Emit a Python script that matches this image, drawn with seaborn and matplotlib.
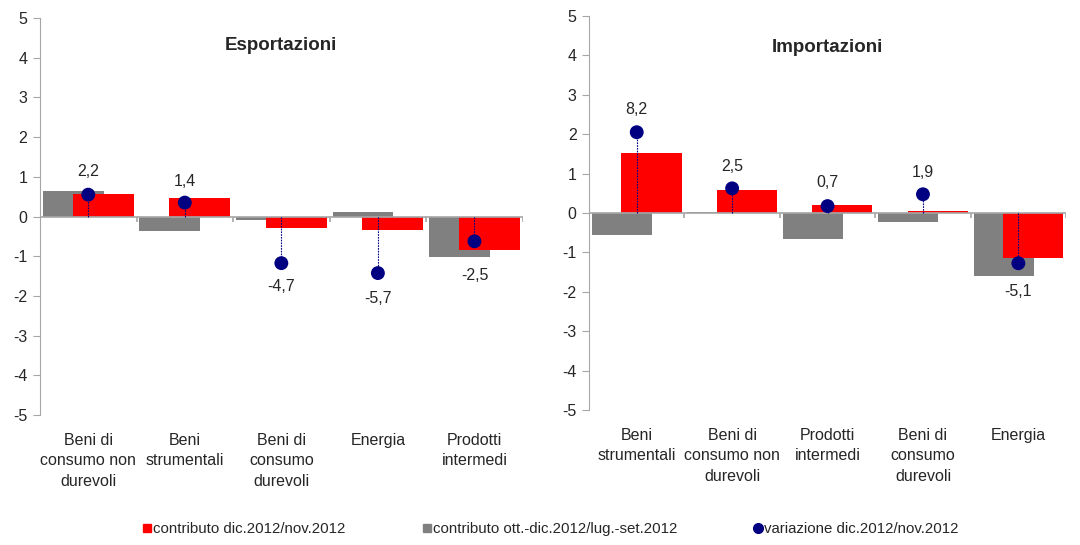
import numpy as np
import pandas as pd
import matplotlib
matplotlib.use('Agg')
import matplotlib.pyplot as plt
import seaborn as sns
from matplotlib.lines import Line2D

# --- data ---
exp_cats = ['Beni di\nconsumo non\ndurevoli', 'Beni\nstrumentali', 'Beni di\nconsumo\ndurevoli',
            'Energia', 'Prodotti\nintermedi']
exp_contrib_month = [0.56, 0.46, -0.29, -0.33, -0.84]     # contributo dic.2012/nov.2012
exp_contrib_quarter = [0.65, -0.37, -0.08, 0.12, -1.01]   # contributo ott.-dic.2012/lug.-set.2012
exp_variation = [2.2, 1.4, -4.7, -5.7, -2.5]              # variazione dic.2012/nov.2012

imp_cats = ['Beni\nstrumentali', 'Beni di\nconsumo non\ndurevoli', 'Prodotti\nintermedi',
            'Beni di\nconsumo\ndurevoli', 'Energia']
imp_contrib_month = [1.51, 0.58, 0.21, 0.06, -1.14]
imp_contrib_quarter = [-0.56, 0.03, -0.66, -0.22, -1.59]
imp_variation = [8.2, 2.5, 0.7, 1.9, -5.1]

legend_labels = ['contributo dic.2012/nov.2012',
                 'contributo ott.-dic.2012/lug.-set.2012',
                 'variazione dic.2012/nov.2012']

# distance (points) of each value label from its dot
exp_label_gap = [17, 15, 17, 18, 24.5]
imp_label_gap = [16, 16, 17, 16, 20]

RED = '#FF0000'
GRAY = '#808080'
NAVY = '#000080'
AXC = '#A6A6A6'

sns.set_style('white')
plt.rcParams['font.family'] = ['Liberation Sans', 'DejaVu Sans']
plt.rcParams['axes.unicode_minus'] = False
fs = 11.5

fig = plt.figure(figsize=(10.8, 5.45), dpi=100)
ax_l = fig.add_axes([0.037, 0.2385, 0.447, 0.7285])
ax_r = fig.add_axes([0.5454, 0.2477, 0.4417, 0.723])


def panel(ax, cats, month, quarter, var, gaps, title, title_y):
    n = len(cats)
    df = pd.DataFrame({'cat': cats, 'month': month, 'quarter': quarter})
    shift = 0.155
    sns.barplot(data=df, x='cat', y='quarter', color=GRAY, width=0.63,
                saturation=1, ax=ax)
    k = len(ax.patches)
    sns.barplot(data=df, x='cat', y='month', color=RED, width=0.63,
                saturation=1, ax=ax)
    for i, p in enumerate(ax.patches):
        p.set_x(p.get_x() + (-shift if i < k else shift))
        p.set_linewidth(0)

    ax.set_xlim(-0.5, n - 0.5)
    ax.set_ylim(-5, 5)
    ax.set_yticks(range(-5, 6))
    ax.set_xlabel('')
    ax.set_ylabel('')
    ax.tick_params(axis='y', left=True, length=5, color=AXC, labelsize=fs, pad=4)
    ax.tick_params(axis='x', bottom=False, length=0, labelsize=fs, pad=13)
    for lab in ax.get_xticklabels():
        lab.set_linespacing(1.45)
    for s in ['top', 'right', 'bottom']:
        ax.spines[s].set_visible(False)
    ax.spines['left'].set_color(AXC)
    ax.axhline(0, color=AXC, lw=1.2, zorder=3)
    ax.vlines(np.arange(n) + 0.5, -0.13, 0, color=AXC, lw=1.2, zorder=3)
    ax.text(0.5, title_y, title, transform=ax.transAxes, ha='center', va='center',
            fontsize=fs + 2, fontweight='bold')

    # variation dots on a hidden secondary scale
    ax2 = ax.twinx()
    ax2.set_ylim(-20, 20)
    ax2.axis('off')
    xs = np.arange(n)
    ax2.vlines(xs, 0, var, color=NAVY, lw=0.8, linestyles=(0, (1.5, 1)), zorder=4)
    sns.scatterplot(x=xs, y=var, color=NAVY, s=100, edgecolor='none', zorder=5, ax=ax2)
    ax2.set_xlim(-0.5, n - 0.5)
    for x, v, g in zip(xs, var, gaps):
        ax2.annotate(f'{v:.1f}'.replace('.', ','), (x, v),
                     xytext=(0, g if v > 0 else -g), textcoords='offset points',
                     ha='center', va='center', fontsize=fs)


panel(ax_l, exp_cats, exp_contrib_month, exp_contrib_quarter, exp_variation,
      exp_label_gap, 'Esportazioni', 0.93)
panel(ax_r, imp_cats, imp_contrib_month, imp_contrib_quarter, imp_variation,
      imp_label_gap, 'Importazioni', 0.92)

handles = [Line2D([], [], marker='s', color=RED, ls='', markersize=6),
           Line2D([], [], marker='s', color=GRAY, ls='', markersize=6),
           Line2D([], [], marker='o', color=NAVY, ls='', markersize=7)]
fig.legend(handles, legend_labels, loc='lower center', bbox_to_anchor=(0.51, -0.008),
           ncol=3, frameon=False, fontsize=10.8, handlelength=0.6, handletextpad=0.1,
           columnspacing=5.1)

fig.savefig('out.png', dpi=100)
